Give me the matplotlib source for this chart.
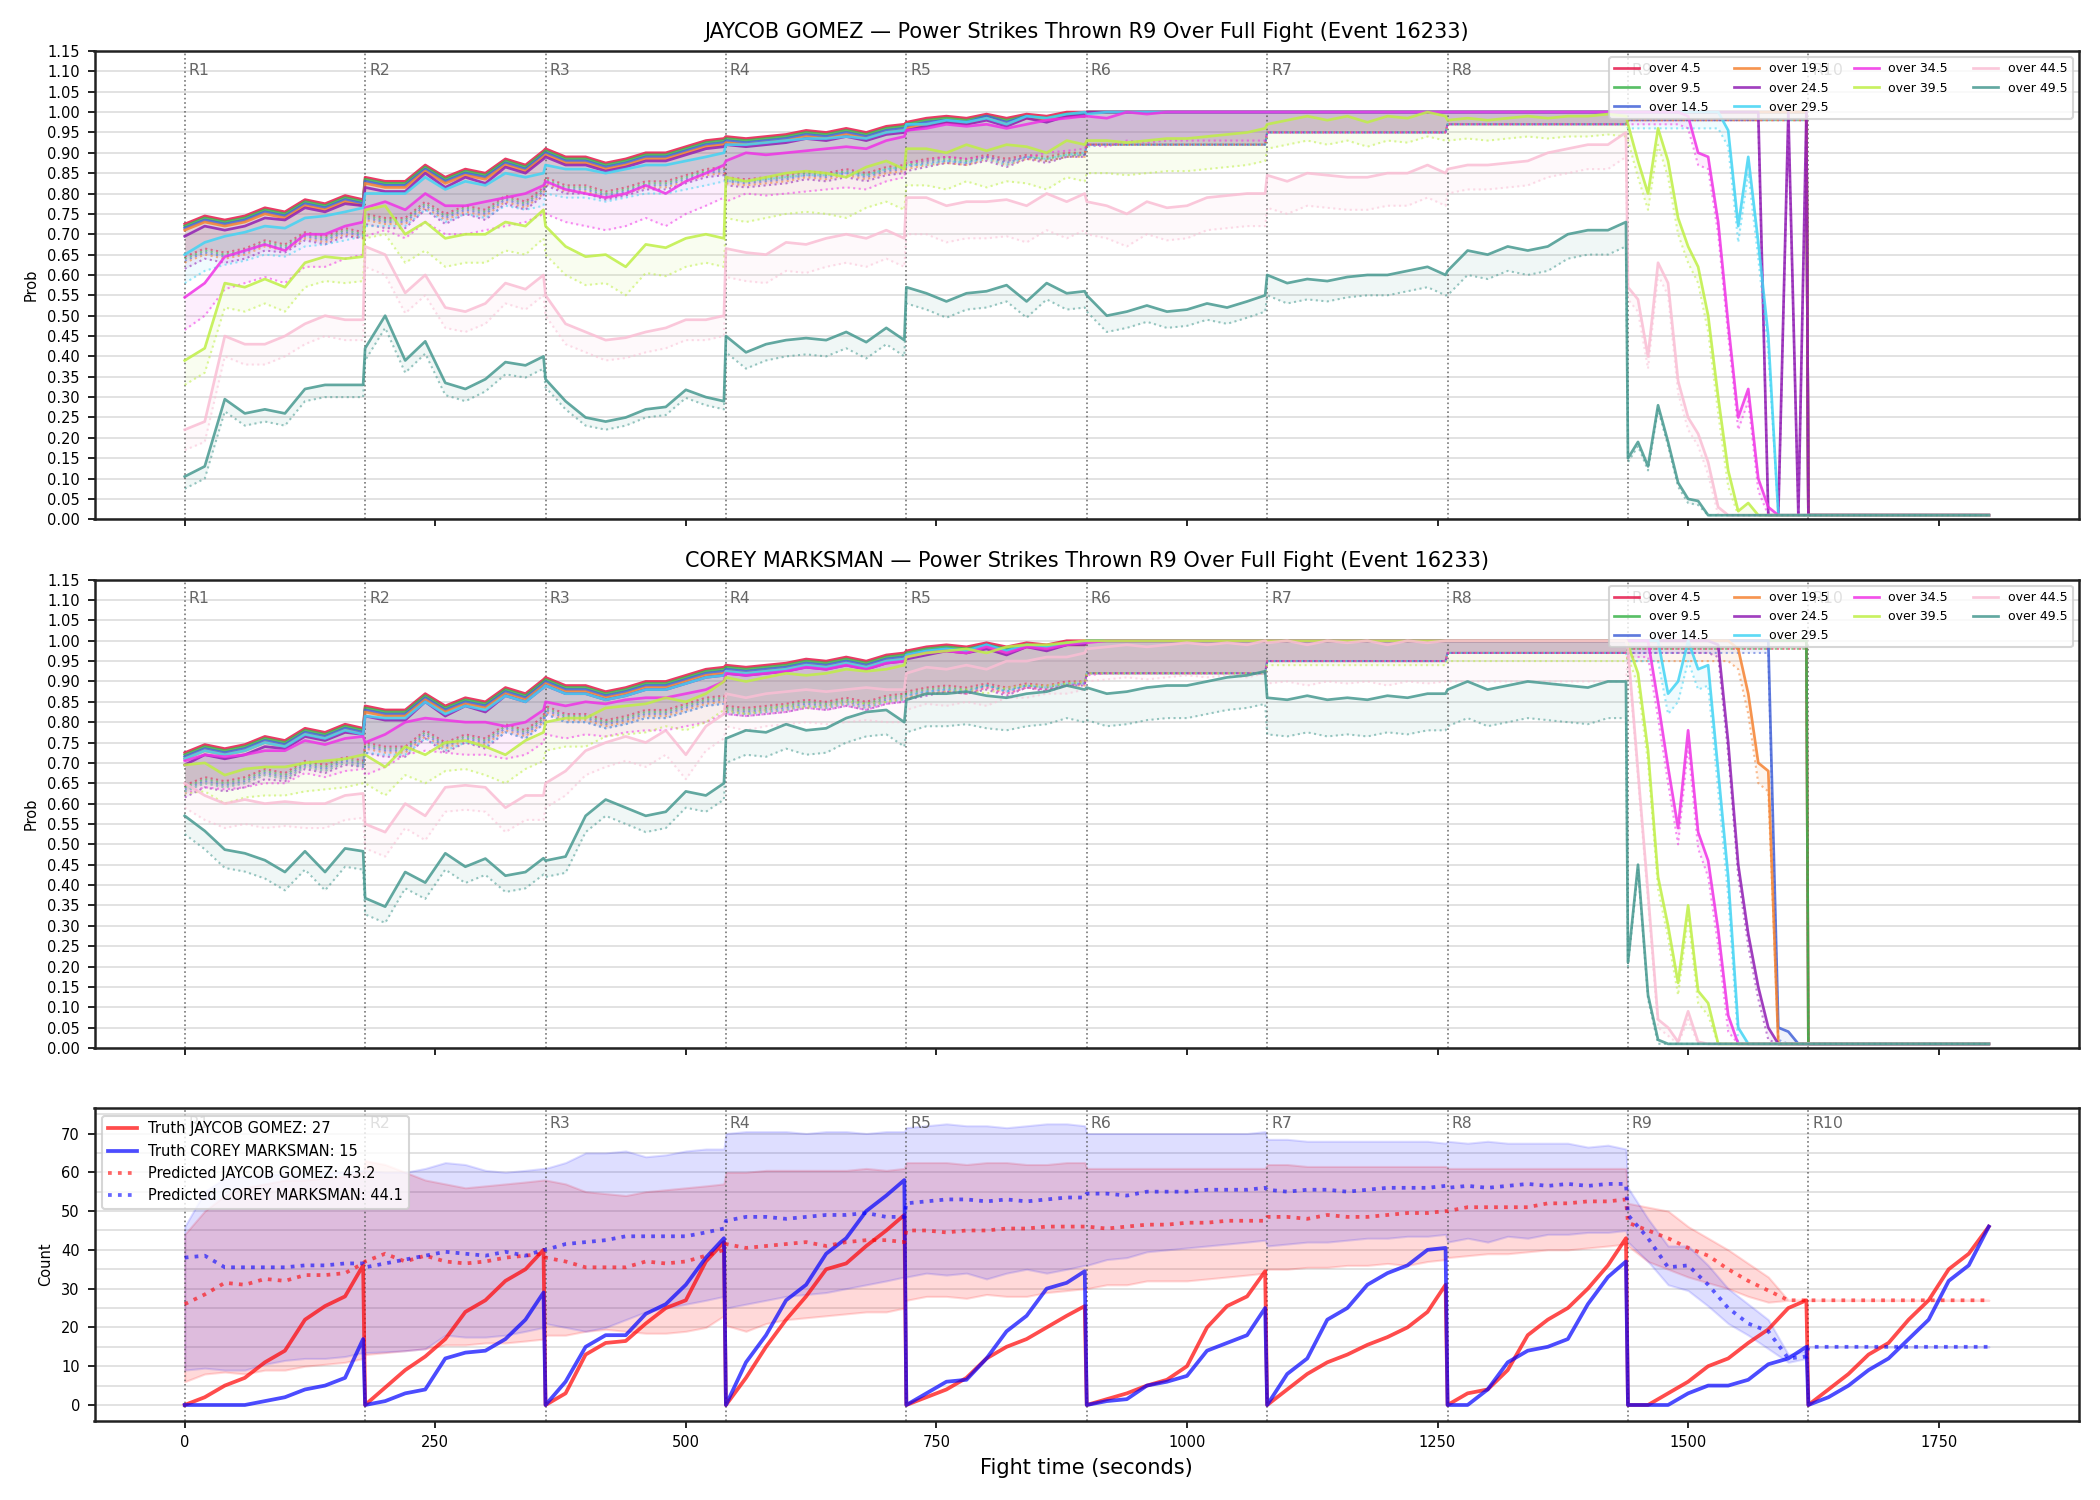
import numpy as np
import matplotlib
matplotlib.use("Agg")
import matplotlib.pyplot as plt
from matplotlib.ticker import MultipleLocator, FormatStrFormatter

fighter1 = "JAYCOB GOMEZ"
fighter2 = "COREY MARKSMAN"
event = 16233
market = "Power Strikes Thrown R9 Over Full Fight"

rounds = ["R1", "R2", "R3", "R4", "R5", "R6", "R7", "R8", "R9", "R10"]
round_start = [0, 180, 360, 540, 720, 900, 1080, 1260, 1440, 1620]

# sample offsets (s) inside each round
steps = [0, 20, 40, 60, 80, 100, 120, 140, 160, 178]
steps_r9 = [0, 10, 20, 30, 40, 50, 60, 70, 80, 90, 100, 110, 120, 130, 140, 150, 160, 170, 178]
steps_r10_prob = [0, 180]
steps_r10_count = [0, 20, 40, 60, 80, 100, 120, 140, 160, 180]

labels = ["over 4.5", "over 9.5", "over 14.5", "over 19.5", "over 24.5",
          "over 29.5", "over 34.5", "over 39.5", "over 44.5", "over 49.5"]
colors = ["#e6194b", "#3cb44b", "#4363d8", "#f58231", "#911eb4",
          "#42d4f4", "#f032e6", "#bfef45", "#fabed4", "#469990"]

# ---- probability lines, rounds 1-8 (shared by both fighters for low lines)
over45_r1r8 = [
    0.725, 0.745, 0.735, 0.745, 0.765, 0.755, 0.785, 0.775, 0.795, 0.785,
    0.84, 0.83, 0.83, 0.87, 0.84, 0.86, 0.85, 0.885, 0.87, 0.905,
    0.91, 0.89, 0.89, 0.875, 0.885, 0.9, 0.9, 0.915, 0.93, 0.935,
    0.94, 0.935, 0.94, 0.945, 0.955, 0.95, 0.96, 0.95, 0.965, 0.97,
    0.975, 0.985, 0.99, 0.985, 0.995, 0.985, 0.995, 0.99, 1.0, 1.0,
    1.0, 1.0, 1.0, 1.0, 1.0, 1.0, 1.0, 1.0, 1.0, 1.0,
    1.0, 1.0, 1.0, 1.0, 1.0, 1.0, 1.0, 1.0, 1.0, 1.0,
    1.0, 1.0, 1.0, 1.0, 1.0, 1.0, 1.0, 1.0, 1.0, 1.0]
over95_r1r8 = [
    0.72, 0.74, 0.73, 0.74, 0.76, 0.75, 0.78, 0.77, 0.79, 0.78,
    0.835, 0.825, 0.825, 0.865, 0.835, 0.855, 0.845, 0.88, 0.865, 0.9,
    0.905, 0.885, 0.885, 0.87, 0.88, 0.895, 0.895, 0.91, 0.925, 0.93,
    0.935, 0.93, 0.935, 0.94, 0.95, 0.945, 0.955, 0.945, 0.96, 0.965,
    0.97, 0.98, 0.985, 0.98, 0.99, 0.98, 0.99, 0.985, 0.995, 0.995,
    1.0, 1.0, 1.0, 1.0, 1.0, 1.0, 1.0, 1.0, 1.0, 1.0,
    1.0, 1.0, 1.0, 1.0, 1.0, 1.0, 1.0, 1.0, 1.0, 1.0,
    1.0, 1.0, 1.0, 1.0, 1.0, 1.0, 1.0, 1.0, 1.0, 1.0]
over145_r1r8 = [
    0.715, 0.735, 0.725, 0.735, 0.755, 0.745, 0.775, 0.765, 0.785, 0.775,
    0.83, 0.82, 0.82, 0.86, 0.83, 0.85, 0.84, 0.875, 0.86, 0.895,
    0.9, 0.88, 0.88, 0.865, 0.875, 0.89, 0.89, 0.905, 0.92, 0.925,
    0.93, 0.925, 0.93, 0.935, 0.945, 0.94, 0.95, 0.94, 0.955, 0.96,
    0.965, 0.975, 0.98, 0.975, 0.99, 0.975, 0.99, 0.98, 0.99, 0.995,
    1.0, 1.0, 1.0, 1.0, 1.0, 1.0, 1.0, 1.0, 1.0, 1.0,
    1.0, 1.0, 1.0, 1.0, 1.0, 1.0, 1.0, 1.0, 1.0, 1.0,
    1.0, 1.0, 1.0, 1.0, 1.0, 1.0, 1.0, 1.0, 1.0, 1.0]
over195_r1r8 = [
    0.71, 0.73, 0.72, 0.73, 0.75, 0.74, 0.77, 0.76, 0.78, 0.77,
    0.825, 0.815, 0.815, 0.855, 0.825, 0.845, 0.835, 0.87, 0.855, 0.89,
    0.895, 0.875, 0.875, 0.86, 0.87, 0.885, 0.885, 0.9, 0.915, 0.92,
    0.925, 0.92, 0.925, 0.93, 0.94, 0.935, 0.945, 0.935, 0.95, 0.955,
    0.96, 0.97, 0.975, 0.97, 0.985, 0.97, 0.985, 0.98, 0.99, 0.99,
    1.0, 1.0, 1.0, 1.0, 1.0, 1.0, 1.0, 1.0, 1.0, 1.0,
    1.0, 1.0, 1.0, 1.0, 1.0, 1.0, 1.0, 1.0, 1.0, 1.0,
    1.0, 1.0, 1.0, 1.0, 1.0, 1.0, 1.0, 1.0, 1.0, 1.0]
over245_r1r8 = [
    0.695, 0.72, 0.71, 0.72, 0.74, 0.735, 0.765, 0.755, 0.775, 0.77,
    0.815, 0.805, 0.805, 0.85, 0.815, 0.84, 0.825, 0.865, 0.85, 0.885,
    0.89, 0.87, 0.87, 0.855, 0.865, 0.88, 0.88, 0.895, 0.91, 0.915,
    0.92, 0.915, 0.92, 0.925, 0.935, 0.93, 0.94, 0.93, 0.945, 0.95,
    0.955, 0.965, 0.975, 0.97, 0.98, 0.965, 0.985, 0.975, 0.99, 0.99,
    1.0, 1.0, 1.0, 1.0, 1.0, 1.0, 1.0, 1.0, 1.0, 1.0,
    1.0, 1.0, 1.0, 1.0, 1.0, 1.0, 1.0, 1.0, 1.0, 1.0,
    1.0, 1.0, 1.0, 1.0, 1.0, 1.0, 1.0, 1.0, 1.0, 1.0]

# ---- JAYCOB GOMEZ: rounds 9 and 10 of the low lines
gomez_over45_tail = [1.0, 1.0, 1.0, 1.0, 1.0, 1.0, 1.0, 1.0, 1.0, 1.0, 1.0, 1.0, 1.0, 1.0, 1.0, 1.0, 1.0, 1.0, 1.0, 0.01, 0.01]
gomez_over95_tail = [1.0, 1.0, 1.0, 1.0, 1.0, 1.0, 1.0, 1.0, 1.0, 1.0, 1.0, 1.0, 1.0, 1.0, 1.0, 1.0, 1.0, 1.0, 1.0, 0.01, 0.01]
gomez_over145_tail = [1.0, 1.0, 1.0, 1.0, 1.0, 1.0, 1.0, 1.0, 1.0, 1.0, 1.0, 1.0, 1.0, 1.0, 1.0, 1.0, 1.0, 1.0, 1.0, 0.01, 0.01]
gomez_over195_tail = [1.0, 1.0, 1.0, 1.0, 1.0, 1.0, 1.0, 1.0, 1.0, 1.0, 1.0, 1.0, 1.0, 1.0, 1.0, 1.0, 1.0, 1.0, 1.0, 0.01, 0.01]
gomez_over245_tail = [1.0, 1.0, 1.0, 1.0, 1.0, 1.0, 1.0, 1.0, 1.0, 1.0, 1.0, 1.0, 1.0, 1.0, 0.01, 0.01, 1.0, 0.01, 1.0, 0.01, 0.01]

gomez_over295 = [
    0.65, 0.68, 0.695, 0.705, 0.72, 0.715, 0.74, 0.745, 0.755, 0.765,
    0.8, 0.8, 0.8, 0.84, 0.81, 0.83, 0.82, 0.85, 0.84, 0.85,
    0.87, 0.86, 0.86, 0.85, 0.86, 0.87, 0.87, 0.88, 0.89, 0.9,
    0.92, 0.92, 0.925, 0.93, 0.935, 0.935, 0.94, 0.935, 0.95, 0.955,
    0.97, 0.97, 0.98, 0.975, 0.985, 0.97, 0.99, 0.985, 0.995, 1.0,
    0.995, 1.0, 1.0, 1.0, 1.0, 1.0, 1.0, 1.0, 1.0, 1.0,
    1.0, 1.0, 1.0, 1.0, 1.0, 1.0, 1.0, 1.0, 1.0, 1.0,
    1.0, 1.0, 1.0, 1.0, 1.0, 1.0, 1.0, 1.0, 1.0, 1.0,
    1.0, 1.0, 1.0, 1.0, 1.0, 1.0, 1.0, 1.0, 1.0, 1.0, 0.955, 0.72, 0.89, 0.68, 0.45, 0.01, 0.01, 0.01, 0.01,
    0.01, 0.01]
gomez_over345 = [
    0.545, 0.58, 0.645, 0.66, 0.675, 0.66, 0.7, 0.7, 0.72, 0.73,
    0.765, 0.78, 0.76, 0.8, 0.77, 0.77, 0.78, 0.79, 0.8, 0.82,
    0.83, 0.81, 0.8, 0.79, 0.8, 0.82, 0.8, 0.83, 0.85, 0.87,
    0.88, 0.9, 0.895, 0.9, 0.905, 0.91, 0.915, 0.91, 0.93, 0.94,
    0.955, 0.96, 0.97, 0.965, 0.97, 0.96, 0.97, 0.98, 0.985, 0.99,
    0.99, 0.985, 1.0, 0.995, 1.0, 1.0, 1.0, 1.0, 1.0, 1.0,
    1.0, 1.0, 1.0, 1.0, 1.0, 1.0, 1.0, 1.0, 1.0, 1.0,
    1.0, 1.0, 1.0, 1.0, 1.0, 1.0, 1.0, 1.0, 1.0, 1.0,
    1.0, 1.0, 1.0, 1.0, 1.0, 1.0, 0.99, 0.9, 0.89, 0.73, 0.48, 0.25, 0.32, 0.1, 0.03, 0.01, 0.01, 0.01, 0.01,
    0.01, 0.01]
gomez_over395 = [
    0.39, 0.42, 0.58, 0.57, 0.59, 0.57, 0.63, 0.645, 0.64, 0.645,
    0.76, 0.77, 0.7, 0.73, 0.69, 0.7, 0.7, 0.73, 0.72, 0.76,
    0.72, 0.67, 0.645, 0.65, 0.62, 0.675, 0.667, 0.69, 0.7, 0.69,
    0.84, 0.83, 0.84, 0.85, 0.855, 0.85, 0.84, 0.865, 0.88, 0.86,
    0.91, 0.91, 0.9, 0.92, 0.905, 0.92, 0.915, 0.9, 0.93, 0.92,
    0.93, 0.93, 0.925, 0.93, 0.935, 0.935, 0.94, 0.945, 0.95, 0.96,
    0.97, 0.98, 0.99, 0.98, 0.99, 0.975, 0.99, 0.985, 1.0, 0.99,
    0.98, 0.985, 0.98, 0.985, 0.99, 0.985, 0.99, 0.99, 0.995, 0.99,
    0.97, 0.88, 0.8, 0.96, 0.88, 0.74, 0.67, 0.62, 0.5, 0.3, 0.12, 0.02, 0.04, 0.01, 0.01, 0.01, 0.01, 0.01, 0.01,
    0.01, 0.01]
gomez_over445 = [
    0.22, 0.24, 0.45, 0.43, 0.43, 0.45, 0.48, 0.5, 0.49, 0.49,
    0.67, 0.65, 0.556, 0.6, 0.52, 0.51, 0.53, 0.58, 0.565, 0.6,
    0.55, 0.48, 0.46, 0.44, 0.446, 0.46, 0.47, 0.49, 0.49, 0.5,
    0.665, 0.655, 0.65, 0.68, 0.675, 0.69, 0.7, 0.69, 0.71, 0.69,
    0.79, 0.79, 0.77, 0.78, 0.78, 0.785, 0.77, 0.8, 0.78, 0.8,
    0.78, 0.77, 0.75, 0.78, 0.765, 0.77, 0.79, 0.795, 0.8, 0.8,
    0.845, 0.83, 0.85, 0.845, 0.84, 0.84, 0.85, 0.85, 0.87, 0.85,
    0.86, 0.87, 0.87, 0.875, 0.88, 0.9, 0.91, 0.92, 0.92, 0.95,
    0.57, 0.54, 0.4, 0.63, 0.58, 0.34, 0.25, 0.21, 0.14, 0.03, 0.01, 0.01, 0.01, 0.01, 0.01, 0.01, 0.01, 0.01, 0.01,
    0.01, 0.01]
gomez_over495 = [
    0.105, 0.13, 0.295, 0.26, 0.27, 0.26, 0.32, 0.33, 0.33, 0.33,
    0.42, 0.5, 0.39, 0.437, 0.335, 0.32, 0.344, 0.386, 0.378, 0.4,
    0.344, 0.29, 0.25, 0.24, 0.25, 0.27, 0.276, 0.318, 0.3, 0.29,
    0.45, 0.41, 0.43, 0.44, 0.445, 0.44, 0.46, 0.435, 0.47, 0.44,
    0.57, 0.555, 0.535, 0.555, 0.56, 0.575, 0.535, 0.58, 0.555, 0.56,
    0.55, 0.5, 0.51, 0.525, 0.51, 0.515, 0.53, 0.52, 0.535, 0.55,
    0.6, 0.58, 0.59, 0.585, 0.595, 0.6, 0.6, 0.61, 0.62, 0.6,
    0.61, 0.66, 0.65, 0.67, 0.66, 0.67, 0.7, 0.71, 0.71, 0.73,
    0.15, 0.19, 0.13, 0.28, 0.19, 0.09, 0.05, 0.045, 0.01, 0.01, 0.01, 0.01, 0.01, 0.01, 0.01, 0.01, 0.01, 0.01, 0.01,
    0.01, 0.01]

# ---- COREY MARKSMAN: rounds 9 and 10 of the low lines
marksman_over45_tail = [1.0, 1.0, 1.0, 1.0, 1.0, 1.0, 1.0, 1.0, 1.0, 1.0, 1.0, 1.0, 1.0, 1.0, 1.0, 1.0, 1.0, 1.0, 1.0, 0.01, 0.01]
marksman_over95_tail = [1.0, 1.0, 1.0, 1.0, 1.0, 1.0, 1.0, 1.0, 1.0, 1.0, 1.0, 1.0, 1.0, 1.0, 1.0, 1.0, 1.0, 1.0, 1.0, 0.01, 0.01]
marksman_over145_tail = [1.0, 1.0, 1.0, 1.0, 1.0, 1.0, 1.0, 1.0, 1.0, 1.0, 1.0, 1.0, 1.0, 1.0, 1.0, 0.05, 0.04, 0.01, 0.01, 0.01, 0.01]
marksman_over195_tail = [1.0, 1.0, 1.0, 1.0, 1.0, 1.0, 1.0, 1.0, 1.0, 1.0, 1.0, 0.98, 0.87, 0.7, 0.68, 0.01, 0.01, 0.01, 0.01, 0.01, 0.01]
marksman_over245_tail = [1.0, 1.0, 1.0, 1.0, 1.0, 1.0, 1.0, 1.0, 1.0, 0.99, 0.75, 0.45, 0.28, 0.15, 0.05, 0.01, 0.01, 0.01, 0.01, 0.01, 0.01]

marksman_over295 = [
    0.71, 0.73, 0.72, 0.73, 0.75, 0.74, 0.77, 0.76, 0.78, 0.77,
    0.815, 0.81, 0.81, 0.85, 0.82, 0.84, 0.83, 0.865, 0.85, 0.885,
    0.89, 0.87, 0.87, 0.855, 0.865, 0.88, 0.88, 0.895, 0.91, 0.915,
    0.925, 0.92, 0.925, 0.93, 0.94, 0.935, 0.945, 0.935, 0.95, 0.955,
    0.965, 0.975, 0.98, 0.975, 0.99, 0.975, 0.99, 0.985, 0.995, 0.995,
    1.0, 1.0, 1.0, 1.0, 1.0, 1.0, 1.0, 1.0, 1.0, 1.0,
    1.0, 1.0, 1.0, 1.0, 1.0, 1.0, 1.0, 1.0, 1.0, 1.0,
    1.0, 1.0, 1.0, 1.0, 1.0, 1.0, 1.0, 1.0, 1.0, 1.0,
    1.0, 1.0, 1.0, 1.0, 0.87, 0.9, 1.0, 0.93, 0.94, 0.68, 0.42, 0.05, 0.01, 0.01, 0.01, 0.01, 0.01, 0.01, 0.01,
    0.01, 0.01]
marksman_over345 = [
    0.705, 0.72, 0.715, 0.72, 0.73, 0.73, 0.755, 0.745, 0.76, 0.765,
    0.75, 0.77, 0.8, 0.81, 0.805, 0.8, 0.8, 0.79, 0.8, 0.83,
    0.85, 0.84, 0.85, 0.845, 0.855, 0.86, 0.86, 0.87, 0.88, 0.9,
    0.92, 0.915, 0.92, 0.925, 0.935, 0.93, 0.94, 0.93, 0.945, 0.95,
    0.96, 0.97, 0.975, 0.97, 0.985, 0.97, 0.985, 0.98, 0.99, 0.995,
    0.995, 1.0, 1.0, 1.0, 1.0, 1.0, 1.0, 1.0, 1.0, 1.0,
    1.0, 1.0, 1.0, 1.0, 1.0, 1.0, 1.0, 1.0, 1.0, 1.0,
    1.0, 1.0, 1.0, 1.0, 1.0, 1.0, 1.0, 1.0, 1.0, 1.0,
    1.0, 1.0, 1.0, 0.85, 0.69, 0.54, 0.78, 0.53, 0.46, 0.29, 0.08, 0.01, 0.01, 0.01, 0.01, 0.01, 0.01, 0.01, 0.01,
    0.01, 0.01]
marksman_over395 = [
    0.695, 0.7, 0.67, 0.685, 0.69, 0.69, 0.7, 0.705, 0.71, 0.72,
    0.72, 0.69, 0.74, 0.72, 0.75, 0.755, 0.74, 0.72, 0.755, 0.775,
    0.8, 0.81, 0.81, 0.835, 0.84, 0.845, 0.86, 0.85, 0.87, 0.9,
    0.91, 0.9, 0.91, 0.92, 0.915, 0.92, 0.93, 0.925, 0.93, 0.94,
    0.96, 0.97, 0.975, 0.98, 0.97, 0.985, 0.99, 0.99, 0.995, 1.0,
    1.0, 1.0, 1.0, 1.0, 1.0, 1.0, 1.0, 1.0, 1.0, 1.0,
    1.0, 1.0, 1.0, 1.0, 1.0, 1.0, 1.0, 1.0, 1.0, 1.0,
    1.0, 1.0, 1.0, 1.0, 1.0, 1.0, 1.0, 1.0, 1.0, 1.0,
    0.99, 0.92, 0.73, 0.42, 0.3, 0.16, 0.35, 0.14, 0.11, 0.01, 0.01, 0.01, 0.01, 0.01, 0.01, 0.01, 0.01, 0.01, 0.01,
    0.01, 0.01]
marksman_over445 = [
    0.65, 0.62, 0.6, 0.61, 0.6, 0.605, 0.6, 0.6, 0.62, 0.625,
    0.55, 0.53, 0.6, 0.57, 0.64, 0.645, 0.64, 0.59, 0.62, 0.62,
    0.65, 0.68, 0.73, 0.75, 0.765, 0.75, 0.78, 0.72, 0.79, 0.82,
    0.87, 0.86, 0.87, 0.875, 0.88, 0.875, 0.88, 0.885, 0.88, 0.88,
    0.92, 0.935, 0.93, 0.94, 0.93, 0.95, 0.95, 0.96, 0.96, 0.97,
    0.98, 0.985, 0.99, 0.985, 0.99, 0.995, 0.99, 0.995, 0.99, 1.0,
    0.995, 1.0, 0.99, 1.0, 0.995, 1.0, 0.99, 1.0, 0.995, 1.0,
    1.0, 1.0, 1.0, 1.0, 1.0, 1.0, 1.0, 1.0, 1.0, 1.0,
    0.98, 0.68, 0.38, 0.07, 0.05, 0.015, 0.09, 0.015, 0.01, 0.01, 0.01, 0.01, 0.01, 0.01, 0.01, 0.01, 0.01, 0.01, 0.01,
    0.01, 0.01]
marksman_over495 = [
    0.57, 0.533, 0.487, 0.478, 0.461, 0.432, 0.483, 0.432, 0.49, 0.483,
    0.368, 0.347, 0.432, 0.406, 0.478, 0.445, 0.465, 0.423, 0.432, 0.466,
    0.46, 0.47, 0.57, 0.61, 0.59, 0.57, 0.58, 0.63, 0.62, 0.65,
    0.76, 0.78, 0.775, 0.795, 0.78, 0.785, 0.81, 0.825, 0.83, 0.8,
    0.855, 0.87, 0.87, 0.875, 0.865, 0.86, 0.87, 0.875, 0.89, 0.88,
    0.885, 0.87, 0.875, 0.885, 0.89, 0.89, 0.9, 0.91, 0.915, 0.925,
    0.86, 0.855, 0.865, 0.855, 0.86, 0.855, 0.865, 0.86, 0.87, 0.87,
    0.88, 0.9, 0.88, 0.89, 0.9, 0.895, 0.89, 0.885, 0.9, 0.9,
    0.21, 0.45, 0.13, 0.02, 0.01, 0.01, 0.01, 0.01, 0.01, 0.01, 0.01, 0.01, 0.01, 0.01, 0.01, 0.01, 0.01, 0.01, 0.01,
    0.01, 0.01]

# distance from each line down to its dotted lower bound, one value per round
gomez_gaps = [
    [0.08, 0.09, 0.07, 0.1, 0.1, 0.08, 0.05, 0.03, 0.02, 0.0],
    [0.08, 0.09, 0.07, 0.1, 0.1, 0.08, 0.05, 0.03, 0.02, 0.0],
    [0.08, 0.09, 0.07, 0.1, 0.1, 0.08, 0.05, 0.03, 0.02, 0.0],
    [0.08, 0.09, 0.07, 0.1, 0.1, 0.08, 0.05, 0.03, 0.02, 0.0],
    [0.08, 0.09, 0.07, 0.1, 0.1, 0.08, 0.05, 0.03, 0.02, 0.0],
    [0.07, 0.08, 0.07, 0.09, 0.1, 0.08, 0.05, 0.03, 0.04, 0.0],
    [0.08, 0.07, 0.08, 0.1, 0.08, 0.07, 0.05, 0.03, 0.03, 0.0],
    [0.06, 0.07, 0.07, 0.1, 0.09, 0.08, 0.06, 0.05, 0.04, 0.0],
    [0.05, 0.05, 0.05, 0.07, 0.09, 0.08, 0.08, 0.06, 0.03, 0.0],
    [0.03, 0.03, 0.02, 0.04, 0.04, 0.04, 0.05, 0.06, 0.01, 0.0]]
marksman_gaps = [
    [0.08, 0.09, 0.07, 0.1, 0.1, 0.08, 0.05, 0.03, 0.02, 0.0],
    [0.08, 0.09, 0.07, 0.1, 0.1, 0.08, 0.05, 0.03, 0.02, 0.0],
    [0.08, 0.09, 0.07, 0.1, 0.1, 0.08, 0.05, 0.03, 0.03, 0.0],
    [0.08, 0.09, 0.07, 0.1, 0.1, 0.08, 0.05, 0.03, 0.05, 0.0],
    [0.08, 0.09, 0.07, 0.1, 0.1, 0.08, 0.05, 0.03, 0.03, 0.0],
    [0.08, 0.09, 0.07, 0.1, 0.1, 0.08, 0.05, 0.03, 0.05, 0.0],
    [0.08, 0.08, 0.08, 0.1, 0.1, 0.08, 0.05, 0.03, 0.04, 0.0],
    [0.07, 0.07, 0.07, 0.08, 0.1, 0.08, 0.06, 0.05, 0.03, 0.0],
    [0.06, 0.06, 0.06, 0.08, 0.09, 0.08, 0.1, 0.1, 0.02, 0.0],
    [0.045, 0.04, 0.04, 0.06, 0.08, 0.08, 0.09, 0.09, 0.01, 0.0]]

# ---- counts panel
truth_final = [27, 15]
pred_final = [43.2, 44.1]
truth_gomez = [
    0, 2, 5, 7, 11, 14, 22, 25.5, 28, 36,
    0, 4.5, 9, 12.5, 17, 24, 27, 32, 35, 40,
    0, 3, 13, 16, 16.5, 21, 25, 27, 37, 42,
    0, 7, 15, 22, 28, 35, 36.5, 41, 45, 49,
    0, 2, 4, 7, 12, 15, 17, 20, 23, 25.5,
    0, 1.5, 3, 5, 6.5, 10, 20, 25.5, 28, 34.5,
    0, 4, 8, 11, 13, 15.5, 17.5, 20, 24, 31,
    0, 3, 4, 9, 18, 22, 25, 30, 36, 43,
    0, 0, 3, 6, 10, 12, 16, 19.5, 25, 27,
    0, 4, 8, 13, 16, 22, 27, 35, 39, 46]
truth_marksman = [
    0, 0, 0, 0, 1, 2, 4, 5, 7, 17,
    0, 1, 3, 4, 12, 13.5, 14, 17, 22, 29,
    0, 6, 15, 18, 18, 23.5, 26, 31, 38, 43,
    0, 11, 18, 27, 31, 39, 43, 50, 54, 58,
    0, 3, 6, 6.5, 12, 19, 23, 30, 31.5, 34.5,
    0, 1, 1.5, 5, 6, 7.5, 14, 16, 18, 25,
    0, 8, 12, 22, 25, 31, 34, 36, 40, 40.5,
    0, 0, 4, 11, 14, 15, 17, 26, 33, 37,
    0, 0, 0, 3, 5, 5, 6.5, 10.5, 12, 15,
    0, 2, 5, 9, 12, 17, 22, 32, 36, 46]
pred_gomez = [
    26, 28.5, 31.5, 31, 32.5, 32, 33.5, 33.5, 34, 36.5,
    37, 39, 37, 38.5, 37, 36.5, 37, 38, 38.5, 39,
    38, 37, 35.5, 35.5, 35.5, 37, 36.5, 37, 38.5, 40,
    41.5, 40.5, 41, 41.5, 42, 41, 42, 42.5, 42.5, 42,
    45, 45, 44.5, 45, 45, 45.5, 45.5, 46, 46, 46,
    46, 45.5, 46, 46.5, 46.5, 47, 47, 47.5, 47.5, 47.5,
    48.5, 48.5, 48, 49, 48.5, 48.5, 49, 49.5, 49.5, 50,
    50, 51, 51, 51, 51, 52, 52, 52.5, 52.5, 53,
    47, 45, 43, 40.5, 38.5, 35, 32, 29.5, 27, 27,
    27, 27, 27, 27, 27, 27, 27, 27, 27, 27]
pred_marksman = [
    38, 38.5, 35.5, 35.5, 35.5, 35.5, 36, 36, 36.5, 36.5,
    35.5, 36.5, 37.5, 38.5, 39.5, 39, 38.5, 39.5, 38.5, 40,
    40, 41.5, 42, 42.5, 43.5, 43.5, 43.5, 43.5, 44.5, 45.5,
    47.5, 48.5, 48.5, 48, 48.5, 49, 49, 49.5, 48.5, 48.5,
    52, 52.5, 53, 53, 52.5, 53, 52.5, 53, 53.5, 53.5,
    54.5, 54.5, 54, 55, 55, 55, 55.5, 55.5, 55.5, 56,
    55.5, 55, 55.5, 55.5, 55, 55.5, 56, 56, 56, 56.5,
    56, 56.5, 56, 56.5, 57, 56.5, 57, 56.5, 57, 57,
    49, 43, 35.5, 36, 31, 25, 21, 19, 12, 12.5,
    15, 15, 15, 15, 15, 15, 15, 15, 15, 15]
band_gomez_lo = [
    6, 8, 8.5, 8, 9, 9, 10, 10.5, 11, 12,
    13, 13.5, 14, 14.5, 15.5, 15.5, 16, 16, 16.5, 17,
    18, 18, 19, 19.5, 19, 18.5, 18.5, 19, 20, 23,
    20.5, 19, 21, 22, 22.5, 23, 23.5, 24, 24, 25,
    27, 28, 28, 27.5, 28.5, 28, 28, 29, 29.5, 30,
    30, 31, 31, 32, 32, 32, 32.5, 33, 33.5, 34,
    35, 35, 35.5, 35.5, 36, 36, 36.5, 36, 37, 37.5,
    38, 38.5, 39, 39, 39.5, 40, 40, 40.5, 41, 41.5,
    41, 37, 35, 33, 31.5, 30, 28, 26.5, 27, 27,
    27, 27, 27, 27, 27, 27, 27, 27, 27, 27]
band_gomez_hi = [
    44, 50, 54, 56, 57, 58, 58, 58.5, 59, 60,
    63, 62, 60, 58, 57, 56, 56.5, 57, 57.5, 58,
    58, 57, 55, 54.5, 54, 55, 55.5, 56, 56.5, 57,
    60, 60, 60.5, 60.5, 60.5, 60.5, 60.5, 61, 60.5, 61,
    62.5, 62.5, 62.5, 62, 62.5, 62.5, 62, 62, 62.5, 62.5,
    61, 61, 61, 61, 61, 61, 61, 61, 61, 61,
    62, 62, 61.5, 61.5, 61.5, 61.5, 61.5, 61.5, 61.5, 61.5,
    61, 61, 61, 61, 61, 61, 61, 61, 61, 61,
    52, 51, 50, 46, 43, 40, 36.5, 33, 27, 27,
    27, 27, 27, 27, 27, 27, 27, 27, 27, 27]
band_marksman_lo = [
    9, 9.5, 9, 9, 10.5, 11.5, 12, 12, 12.5, 13.5,
    13.5, 13.7, 14, 14.5, 18, 17.5, 17.5, 18, 19, 20,
    21, 20, 19, 20, 22, 24, 25, 26, 27, 28,
    25, 26, 27, 28, 28.5, 29, 30, 31, 32, 33,
    33, 34, 33.5, 34, 32.5, 34, 35, 34, 35, 36,
    36, 37.5, 38, 39.5, 40, 40.5, 41, 41.5, 42, 42.5,
    41, 41.5, 42, 42, 42.5, 43, 43, 43.5, 43.5, 44,
    42, 43, 42, 43.5, 43, 44, 44, 44.5, 44.5, 45,
    42, 37, 31, 29.5, 25.5, 21, 18, 14.5, 11, 12,
    15, 15, 15, 15, 15, 15, 15, 15, 15, 15]
band_marksman_hi = [
    46, 55, 58.5, 59, 59.5, 59.5, 60, 60, 60, 60.5,
    60.5, 60, 60, 61, 62.5, 62, 60.5, 60, 60.5, 61,
    61, 62.5, 65, 65, 65.5, 64, 64.5, 65.5, 66, 66,
    70, 70.5, 70.5, 70.5, 70, 70.5, 70.5, 70, 70.5, 70.5,
    71.5, 72, 72.5, 72, 72, 71.5, 72, 72.5, 72.5, 72,
    70, 70, 70, 70, 70, 70, 70, 70, 70, 70.5,
    68.5, 68.5, 68, 68, 68, 68, 68, 68, 68, 67.5,
    68, 67.5, 68, 67.5, 67.5, 67.5, 67.5, 66.5, 67, 66,
    56, 48, 41, 41, 36, 30, 26, 22, 13, 14,
    15, 15, 15, 15, 15, 15, 15, 15, 15, 15]

# time axes
t_prob = np.concatenate([s + np.array(steps) for s in round_start[:8]]
                        + [round_start[8] + np.array(steps_r9), round_start[9] + np.array(steps_r10_prob)])
n_prob = [len(steps)] * 8 + [len(steps_r9), len(steps_r10_prob)]
t_count = np.concatenate([s + np.array(steps) for s in round_start[:9]]
                         + [round_start[9] + np.array(steps_r10_count)])

gomez = [over45_r1r8 + gomez_over45_tail, over95_r1r8 + gomez_over95_tail,
         over145_r1r8 + gomez_over145_tail, over195_r1r8 + gomez_over195_tail,
         over245_r1r8 + gomez_over245_tail, gomez_over295, gomez_over345,
         gomez_over395, gomez_over445, gomez_over495]
marksman = [over45_r1r8 + marksman_over45_tail, over95_r1r8 + marksman_over95_tail,
            over145_r1r8 + marksman_over145_tail, over195_r1r8 + marksman_over195_tail,
            over245_r1r8 + marksman_over245_tail, marksman_over295, marksman_over345,
            marksman_over395, marksman_over445, marksman_over495]


def style_axis(ax):
    for sp in ax.spines.values():
        sp.set_linewidth(1.2)
        sp.set_color("#222222")
    ax.tick_params(labelsize=7)
    ax.set_axisbelow(True)


def round_marks(ax):
    for r, x0 in zip(rounds, round_start):
        ax.axvline(x0, color="#555555", ls=":", lw=0.8, alpha=0.8, zorder=1)
        ax.text(x0 + 4, 0.975, r, transform=ax.get_xaxis_transform(),
                va="top", ha="left", fontsize=7.5, color="#666666", zorder=1)


def prob_panel(ax, series, gaps, name):
    for lab, c, y, g in zip(labels, colors, series, gaps):
        y = np.array(y)
        lo = np.maximum(y - np.repeat(g, n_prob), 0.01)
        ax.fill_between(t_prob, lo, y, color=c, alpha=0.08, linewidth=0)
        ax.plot(t_prob, lo, ":", color=c, lw=1.0, alpha=0.55)
        ax.plot(t_prob, y, "-", color=c, lw=1.3, alpha=0.85, label=lab)
    ax.set_ylim(0, 1.15)
    ax.set_yticks(np.arange(0, 1.151, 0.05))
    ax.yaxis.set_major_formatter(FormatStrFormatter("%.2f"))
    ax.grid(axis="y", color="#dddddd", lw=0.8)
    ax.set_ylabel("Prob", fontsize=7)
    ax.set_title("%s \u2014 %s (Event %d)" % (name, market, event), fontsize=10)
    round_marks(ax)
    ax.legend(loc="upper right", ncol=4, fontsize=6, framealpha=0.8)
    style_axis(ax)


fig, axes = plt.subplots(3, 1, figsize=(14, 10), dpi=150, sharex=True,
                         gridspec_kw={"height_ratios": [3, 3, 2]})
fig.subplots_adjust(left=0.045, right=0.99, top=0.966, bottom=0.053, hspace=0.145)

prob_panel(axes[0], gomez, gomez_gaps, fighter1)
prob_panel(axes[1], marksman, marksman_gaps, fighter2)

ax = axes[2]
ax.fill_between(t_count, band_gomez_lo, band_gomez_hi, color="red", alpha=0.15)
ax.fill_between(t_count, band_marksman_lo, band_marksman_hi, color="blue", alpha=0.13)
ax.plot(t_count, truth_gomez, color="red", lw=1.8, alpha=0.7,
        label="Truth %s: %d" % (fighter1, truth_final[0]))
ax.plot(t_count, truth_marksman, color="blue", lw=1.8, alpha=0.7,
        label="Truth %s: %d" % (fighter2, truth_final[1]))
ax.plot(t_count, pred_gomez, ":", color="red", lw=1.8, alpha=0.6,
        label="Predicted %s: %.1f" % (fighter1, pred_final[0]))
ax.plot(t_count, pred_marksman, ":", color="blue", lw=1.8, alpha=0.6,
        label="Predicted %s: %.1f" % (fighter2, pred_final[1]))
ax.set_ylim(-4, 76.5)
ax.yaxis.set_major_locator(MultipleLocator(10))
ax.yaxis.set_minor_locator(MultipleLocator(5))
ax.tick_params(axis="y", which="minor", length=0)
ax.grid(axis="y", which="both", color="#dddddd", lw=0.8)
ax.set_ylabel("Count", fontsize=7)
ax.set_xlabel("Fight time (seconds)", fontsize=10)
round_marks(ax)
ax.legend(loc="upper left", fontsize=7, framealpha=0.8)
style_axis(ax)
ax.set_xlim(-90, 1890)

fig.savefig("out.png", dpi=150)
